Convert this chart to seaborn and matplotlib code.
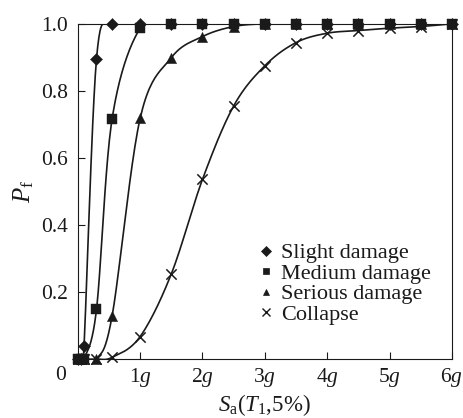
import numpy as np
import pandas as pd
import matplotlib
matplotlib.use("Agg")
import matplotlib.pyplot as plt
import seaborn as sns

# ---- data ----
sa_g = [0.0, 0.05, 0.1, 0.3, 0.55, 1.0, 1.5, 2.0, 2.5, 3.0, 3.5, 4.0, 4.5, 5.0, 5.5, 6.0]
slight = [0.0, 0.0, 0.04, 0.895, 1.0, 1.0, 1.0, 1.0, 1.0, 1.0, 1.0, 1.0, 1.0, 1.0, 1.0, 1.0]
medium = [0.0, 0.0, 0.0, 0.148, 0.716, 0.987, 1.0, 1.0, 1.0, 1.0, 1.0, 1.0, 1.0, 1.0, 1.0, 1.0]
serious = [0.0, 0.0, 0.0, 0.0, 0.128, 0.718, 0.899, 0.962, 0.992, 1.0, 1.0, 1.0, 1.0, 1.0, 1.0, 1.0]
collapse = [0.0, 0.0, 0.0, 0.0, 0.005, 0.067, 0.254, 0.536, 0.755, 0.875, 0.944, 0.972, 0.980, 0.987, 0.992, 1.0]
series_names = ["Slight damage", "Medium damage", "Serious damage", "Collapse"]
xtick_vals = [1, 2, 3, 4, 5, 6]
xtick_labels = ["1$g$", "2$g$", "3$g$", "4$g$", "5$g$", "6$g$"]
ytick_vals = [0.2, 0.4, 0.6, 0.8, 1.0]
ytick_labels = ["0.2", "0.4", "0.6", "0.8", "1.0"]

sns.set_style("ticks")
plt.rcParams["font.family"] = ["Liberation Serif", "DejaVu Serif"]
plt.rcParams["mathtext.fontset"] = "custom"
plt.rcParams["mathtext.rm"] = "Liberation Serif"
plt.rcParams["mathtext.it"] = "Liberation Serif:italic"
plt.rcParams["mathtext.bf"] = "Liberation Serif:bold"

ink = "#1a1a1a"

rows = []
for name, vals in zip(series_names, [slight, medium, serious, collapse]):
    for xv, yv in zip(sa_g, vals):
        rows.append({"Sa": xv, "Pf": yv, "Damage": name})
df = pd.DataFrame(rows)

fig = plt.figure(figsize=(4.63, 4.18), dpi=100)
ax = fig.add_axes([0.168, 0.141, 0.808, 0.802])

# smooth (Excel-like Bezier / Catmull-Rom) line through the points, in screen-proportional space
sx, sy = 62.4, 335.0
def smooth(xs, ys, n=24):
    P = np.column_stack([np.asarray(xs) * sx, np.asarray(ys) * sy])
    out = [P[0]]
    m = len(P)
    t = np.linspace(0, 1, n)[1:, None]
    for i in range(m - 1):
        p0 = P[i - 1] if i > 0 else P[i]
        p1, p2 = P[i], P[i + 1]
        p3 = P[i + 2] if i + 2 < m else P[i + 1]
        c1 = p1 + (p2 - p0) / 6.0
        c2 = p2 - (p3 - p1) / 6.0
        seg = ((1 - t) ** 3) * p1 + 3 * ((1 - t) ** 2) * t * c1 + 3 * (1 - t) * t ** 2 * c2 + t ** 3 * p2
        out.extend(seg)
    out = np.array(out)
    return out[:, 0] / sx, out[:, 1] / sy

for name in series_names:
    d = df[df["Damage"] == name]
    cx, cy = smooth(d["Sa"].values, d["Pf"].values)
    ax.plot(cx, cy, color=ink, lw=1.2, zorder=2)

markers = {"Slight damage": "D", "Medium damage": "s", "Serious damage": "^", "Collapse": "x"}
sizes = {"Slight damage": 38, "Medium damage": 48, "Serious damage": 55, "Collapse": 55}
for name in series_names:
    d = df[df["Damage"] == name]
    sns.scatterplot(data=d, x="Sa", y="Pf", marker=markers[name], s=sizes[name],
                    color=ink, edgecolor=ink if markers[name] != "x" else None,
                    linewidth=1.1 if markers[name] == "x" else 0.3,
                    ax=ax, zorder=3, clip_on=False, legend=False)

ax.set_xlim(0, 6)
ax.set_ylim(0, 1)
ax.set_xticks(xtick_vals)
ax.set_xticklabels(xtick_labels)
ax.set_yticks(ytick_vals)
ax.set_yticklabels(ytick_labels)
ax.tick_params(direction="in", length=5, width=0.8, labelsize=15.5, colors=ink)
ax.tick_params(axis="x", pad=5)
ax.tick_params(axis="y", pad=7)
for sp in ax.spines.values():
    sp.set_visible(True)
    sp.set_linewidth(0.8)
    sp.set_color(ink)
ax.text(-0.047, -0.05, "0", transform=ax.transAxes, ha="center", va="center", fontsize=15.5, color=ink)

ax.set_xlabel(r"$S_\mathrm{a}(T_1{,}5\%)$", fontsize=16.5, color=ink, labelpad=2)
ax.set_ylabel(r"$P_\mathrm{f}$", fontsize=18, color=ink, labelpad=4)

from matplotlib.lines import Line2D
handles = [Line2D([], [], ls="none", marker=markers[n], color=ink,
                  markersize=5 if markers[n] != "x" else 5.5, markeredgewidth=1.0 if markers[n] == "x" else 0.5)
           for n in series_names]
leg = ax.legend(handles, series_names, loc="upper left", bbox_to_anchor=(0.455, 0.38),
                frameon=False, fontsize=16, handlelength=0.6, handletextpad=0.4,
                labelspacing=0.0, borderpad=0.0)
for t in leg.get_texts():
    t.set_color(ink)

fig.savefig("out.png", dpi=100)
